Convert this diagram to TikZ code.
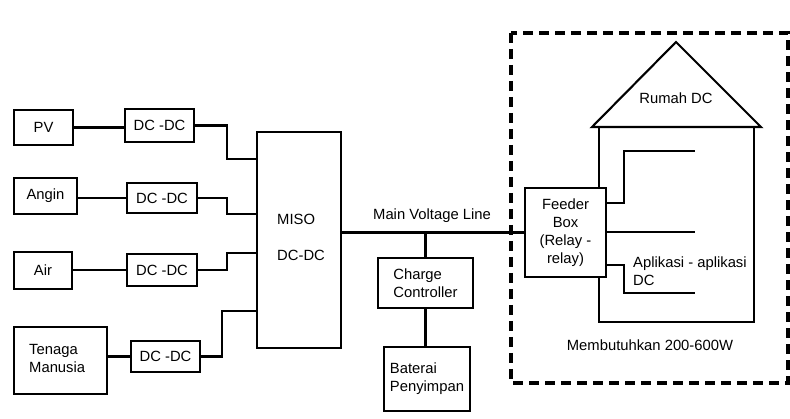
\documentclass[tikz,border=0pt]{standalone}
\usepackage{fontspec}
\setmainfont{Liberation Sans}
\begin{document}
\begin{tikzpicture}[x=1pt,y=-1pt,
  every node/.style={font=\fontsize{14.8}{18}\selectfont, inner sep=0pt},
  box/.style={draw, line width=2pt, fill=white, align=center},
  wire/.style={line width=2.1pt},
  frame/.style={line width=3.2pt, dash pattern=on 10pt off 6pt}]
\useasboundingbox (0,0) rectangle (790,419);
% sources
\node[box, minimum width=59pt, minimum height=35pt] (pv) at (43.5,127.5) {PV};
\node[box, minimum width=69pt, minimum height=33pt] (d1) at (159.5,125.5) {DC -DC};
\node[box, minimum width=63pt, minimum height=36pt] (an) at (45.5,196) {Angin};
\node[box, minimum width=70pt, minimum height=30pt] (d2) at (162,198) {DC -DC};
\node[box, minimum width=58pt, minimum height=37pt] (air) at (43,270.5) {Air};
\node[box, minimum width=70pt, minimum height=32pt] (d3) at (162,270) {DC -DC};
\node[box, minimum width=93pt, minimum height=67pt] (tm) at (60.5,360.5) {};
\node[align=left, anchor=west] (tmt) at (29,358) {Tenaga\\Manusia};
\node[box, minimum width=69pt, minimum height=31pt] (d4) at (165.5,356.5) {DC -DC};
% MISO
\node[box, minimum width=84pt, minimum height=216pt] (miso) at (299,240) {};
\node[anchor=west] (misot) at (277,219) {MISO};
\node[anchor=west] (misod) at (277,255) {DC-DC};
% source wiring
\draw[wire] (pv.east) -- (pv.east -| d1.west);
\draw[wire] (an.east |- d2.west) -- (d2.west);
\draw[wire] (air.east |- d3.west) -- (d3.west);
\draw[wire] (tm.east |- d4.west) -- (d4.west);
\coordinate (k1) at (227,159);
\coordinate (k2) at (227,214);
\coordinate (k3) at (227,253);
\coordinate (k4) at (222,311);
\draw[wire] (d1.east) -| (k1) -- (k1 -| miso.west);
\draw[wire] (d2.east) -| (k2) -- (k2 -| miso.west);
\draw[wire] (d3.east) -| (k3) -- (k3 -| miso.west);
\draw[wire] (d4.east) -| (k4) -- (k4 -| miso.west);
% dashed frame
\draw[frame] (511,33) rectangle (788,383);
% house
\draw[wire] (592,127) -- (676,42) -- (761,127) -- cycle;
\draw[wire] (599,127) rectangle (754,322);
\node (rumah) at (676,98) {Rumah DC};
% feeder
\node[box, minimum width=81pt, minimum height=89pt] (fb) at (565.5,232.5) {Feeder\\Box\\(Relay -\\relay)};
\coordinate (f1) at (624,151);
\coordinate (f1e) at (695,151);
\coordinate (f2e) at (695,232);
\coordinate (f3) at (624,293);
\coordinate (f3e) at (695,293);
\draw[wire] (fb.east |- 0,203) -| (f1) -- (f1e);
\draw[wire] (fb.east |- f2e) -- (f2e);
\draw[wire] (fb.east |- 0,265) -| (f3) -- (f3e);
\node[align=left, anchor=west] (apl) at (633,271) {Aplikasi - aplikasi\\DC};
\node (need) at (650,345) {Membutuhkan 200-600W};
% main line
\draw[wire] (miso.east |- fb.west) -- (fb.west);
\node (mvl) at (432,216) {Main Voltage Line};
\node[box, minimum width=95pt, minimum height=50pt, align=left] (cc) at (425.5,283) {Charge\\Controller};
\node[box, minimum width=86pt, minimum height=64pt, align=left] (bat) at (427,379) {Baterai\\Penyimpan};
\draw[wire] (cc.north) -- (cc.north |- fb.west);
\draw[wire] (cc.south) -- (cc.south |- bat.north);
\end{tikzpicture}
\end{document}
